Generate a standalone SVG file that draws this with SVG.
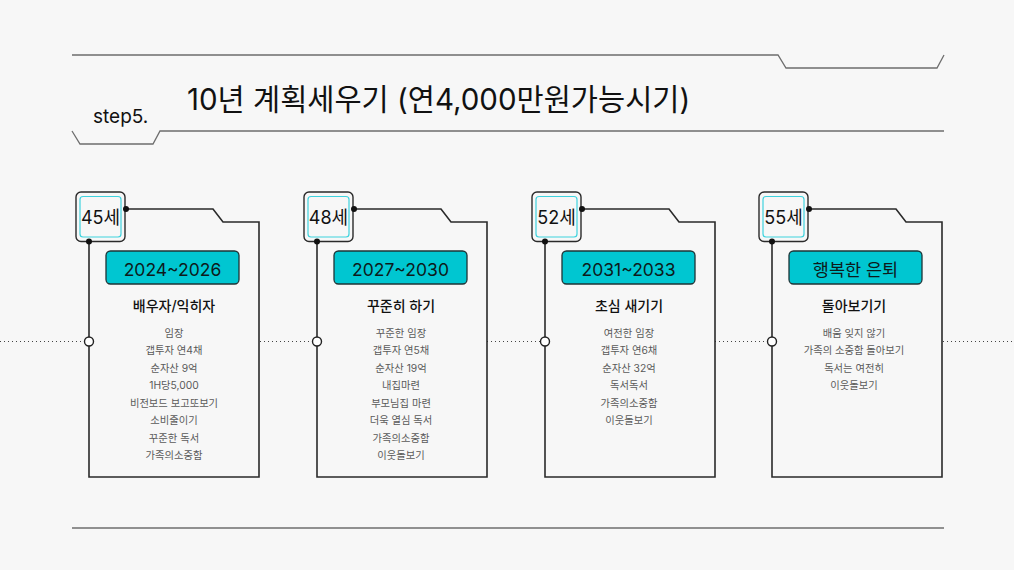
<svg xmlns="http://www.w3.org/2000/svg" width="1014" height="570" viewBox="0 0 1014 570">
<style>
text{font-family:Inter,"Noto Sans CJK KR","Noto Sans",sans-serif;}
.hdr{fill:none;stroke:#6e6e6e;stroke-width:1.3;}
.card{fill:#f7f7f7;stroke:#2a2a2a;stroke-width:1.6;}
.agebox{fill:#f7f7f7;stroke:#2a2a2a;stroke-width:1.4;}
.agein{fill:#f7f7f7;stroke:#3fd3de;stroke-width:1.2;}
.age{font-size:18px;fill:#111;text-anchor:middle;}
.lab{fill:#00c6d1;stroke:#1e3436;stroke-width:1.3;}
.labt{font-size:17.5px;fill:#0d1a1b;text-anchor:middle;}
.ttl{font-size:14px;fill:#111;text-anchor:middle;font-weight:500;}
.lst{font-size:10.3px;fill:#5a5a5a;text-anchor:middle;}
.dot{fill:#111;}
.ring{fill:#fff;stroke:#222;stroke-width:1.4;}
.dotted{stroke:#444;stroke-width:1.2;stroke-dasharray:1 3;fill:none;}
</style>
<rect width="1014" height="570" fill="#f7f7f7"/>
<g id="header">
<path class="hdr" d="M72 55 H778 L786 68 H937 L944 55"/>
<path class="hdr" d="M72 131 L80 144 H153 L160 131 H944"/>
<path class="hdr" d="M72 528 H944"/>
<text x="93" y="123" font-size="19" fill="#111">step5.</text>
<text x="187" y="110" font-size="29.5" fill="#111">10년 계획세우기 (연4,000만원가능시기)</text>
</g>
<g id="connectors">
<path class="dotted" d="M0 341.5 H84"/>
<path class="dotted" d="M260 341.5 H312"/>
<path class="dotted" d="M487 341.5 H540"/>
<path class="dotted" d="M715 341.5 H767"/>
<path class="dotted" d="M943 341.5 H1014"/>
</g>
<g id="card1" transform="translate(89,0)">
<path class="card" d="M0 241.5 V477 H170 V222 H134 L124 209 H37"/>
<rect class="agebox" x="-13" y="192" width="49" height="49.5" rx="5"/>
<rect class="agein" x="-9" y="196.5" width="41" height="40.5" rx="3"/>
<text class="age" x="11.5" y="224">45세</text>
<circle class="dot" cx="37" cy="209" r="3"/>
<circle class="dot" cx="0" cy="241.5" r="3"/>
<circle class="ring" cx="0" cy="341.5" r="4.5"/>
<rect class="lab" x="17" y="251" width="133" height="33" rx="4.5"/>
<text class="labt" x="83.5" y="276">2024~2026</text>
<text class="ttl" x="85" y="311">배우자/익히자</text>
<text class="lst" x="85" y="336.5">임장</text>
<text class="lst" x="85" y="354">갭투자 연4채</text>
<text class="lst" x="85" y="371.5">순자산 9억</text>
<text class="lst" x="85" y="389">1H당5,000</text>
<text class="lst" x="85" y="406.5">비전보드 보고또보기</text>
<text class="lst" x="85" y="424">소비줄이기</text>
<text class="lst" x="85" y="441.5">꾸준한 독서</text>
<text class="lst" x="85" y="459">가족의소중함</text>
</g>
<g id="card2" transform="translate(317,0)">
<path class="card" d="M0 241.5 V477 H170 V222 H134 L124 209 H37"/>
<rect class="agebox" x="-13" y="192" width="49" height="49.5" rx="5"/>
<rect class="agein" x="-9" y="196.5" width="41" height="40.5" rx="3"/>
<text class="age" x="11.5" y="224">48세</text>
<circle class="dot" cx="37" cy="209" r="3"/>
<circle class="dot" cx="0" cy="241.5" r="3"/>
<circle class="ring" cx="0" cy="341.5" r="4.5"/>
<rect class="lab" x="17" y="251" width="133" height="33" rx="4.5"/>
<text class="labt" x="83.5" y="276">2027~2030</text>
<text class="ttl" x="84" y="311">꾸준히 하기</text>
<text class="lst" x="84" y="336.5">꾸준한 임장</text>
<text class="lst" x="84" y="354">갭투자 연5채</text>
<text class="lst" x="84" y="371.5">순자산 19억</text>
<text class="lst" x="84" y="389">내집마련</text>
<text class="lst" x="84" y="406.5">부모님집 마련</text>
<text class="lst" x="84" y="424">더욱 열심 독서</text>
<text class="lst" x="84" y="441.5">가족의소중함</text>
<text class="lst" x="84" y="459">이웃돌보기</text>
</g>
<g id="card3" transform="translate(545,0)">
<path class="card" d="M0 241.5 V477 H170 V222 H134 L124 209 H37"/>
<rect class="agebox" x="-13" y="192" width="49" height="49.5" rx="5"/>
<rect class="agein" x="-9" y="196.5" width="41" height="40.5" rx="3"/>
<text class="age" x="11.5" y="224">52세</text>
<circle class="dot" cx="37" cy="209" r="3"/>
<circle class="dot" cx="0" cy="241.5" r="3"/>
<circle class="ring" cx="0" cy="341.5" r="4.5"/>
<rect class="lab" x="17" y="251" width="133" height="33" rx="4.5"/>
<text class="labt" x="83.5" y="276">2031~2033</text>
<text class="ttl" x="84" y="311">초심 새기기</text>
<text class="lst" x="84" y="336.5">여전한 임장</text>
<text class="lst" x="84" y="354">갭투자 연6채</text>
<text class="lst" x="84" y="371.5">순자산 32억</text>
<text class="lst" x="84" y="389">독서독서</text>
<text class="lst" x="84" y="406.5">가족의소중함</text>
<text class="lst" x="84" y="424">이웃돌보기</text>
</g>
<g id="card4" transform="translate(772,0)">
<path class="card" d="M0 241.5 V477 H170 V222 H134 L124 209 H37"/>
<rect class="agebox" x="-13" y="192" width="49" height="49.5" rx="5"/>
<rect class="agein" x="-9" y="196.5" width="41" height="40.5" rx="3"/>
<text class="age" x="11.5" y="224">55세</text>
<circle class="dot" cx="37" cy="209" r="3"/>
<circle class="dot" cx="0" cy="241.5" r="3"/>
<circle class="ring" cx="0" cy="341.5" r="4.5"/>
<rect class="lab" x="17" y="251" width="133" height="33" rx="4.5"/>
<text class="labt" x="83.5" y="276">행복한 은퇴</text>
<text class="ttl" x="82" y="311">돌아보기기</text>
<text class="lst" x="82" y="336.5">배움 잊지 않기</text>
<text class="lst" x="82" y="354">가족의 소중함 돌아보기</text>
<text class="lst" x="82" y="371.5">독서는 여전히</text>
<text class="lst" x="82" y="389">이웃돌보기</text>
</g>
</svg>
